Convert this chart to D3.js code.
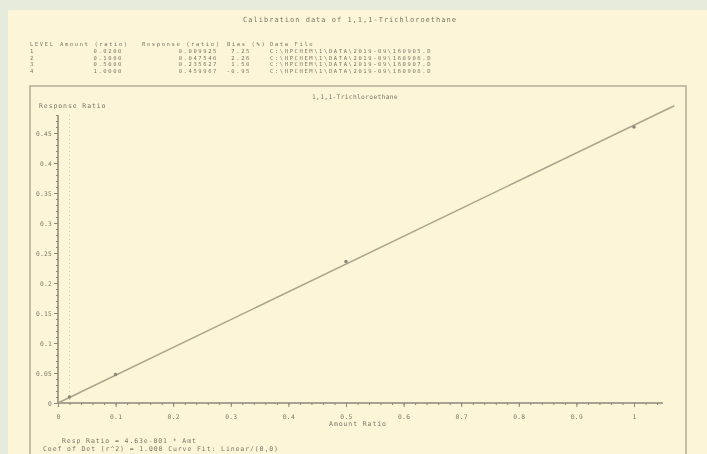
<!DOCTYPE html>
<html>
<head>
<meta charset="utf-8">
<script src="https://cdn.jsdelivr.net/npm/d3@7"></script>
<style>
  body { margin: 0; background: #e6ebdb; }
  svg { display: block; filter: blur(0.45px); }
  text { font-family: "DejaVu Sans Mono", monospace; fill: #7a7668; }
  .t7 { font-size: 6.5px; letter-spacing: 0.9px; }
  .tb { font-size: 5.5px; letter-spacing: 1.6px; }
</style>
</head>
<body>
<div id="chart"></div>
<script>
// calibration levels
const levels = ['1', '2', '3', '4'];
const amounts = [0.02, 0.1, 0.5, 1.0];
const responses = [0.009925, 0.047546, 0.235627, 0.459967];
const biases = ['7.25', '2.26', '1.50', '-0.95'];
const files = [
  'C:\\HPCHEM\\1\\DATA\\2019-09\\160905.D',
  'C:\\HPCHEM\\1\\DATA\\2019-09\\160906.D',
  'C:\\HPCHEM\\1\\DATA\\2019-09\\160907.D',
  'C:\\HPCHEM\\1\\DATA\\2019-09\\160908.D'
];
const xTicks = [0, 0.1, 0.2, 0.3, 0.4, 0.5, 0.6, 0.7, 0.8, 0.9, 1];
const yTicks = [0, 0.05, 0.1, 0.15, 0.2, 0.25, 0.3, 0.35, 0.4, 0.45];
const slope = 0.463;

const width = 707;
const height = 454;
const ink = '#8c8776';

const svg = d3.select('#chart').append('svg')
  .attr('width', width).attr('height', height);

svg.append('rect').attr('x', 8).attr('y', 10)
  .attr('width', width - 8).attr('height', height - 10)
  .attr('fill', '#fdf5d8');

svg.append('text').attr('x', 350).attr('y', 22)
  .attr('text-anchor', 'middle').style('font-size', '7px').style('letter-spacing', '1px')
  .text('Calibration data of 1,1,1-Trichloroethane');

// table
const cols = [
  {x: 30, hx: 30, anchor: 'start', head: 'LEVEL', val: (i) => levels[i]},
  {x: 123, hx: 60, anchor: 'end', head: 'Amount (ratio)', val: (i) => amounts[i].toFixed(4)},
  {x: 218, hx: 142, anchor: 'end', head: 'Response (ratio)', val: (i) => responses[i].toFixed(6)},
  {x: 251, hx: 227, anchor: 'end', head: 'Bias (%)', val: (i) => biases[i]},
  {x: 270, hx: 270, anchor: 'start', head: 'Data File', val: (i) => files[i]}
];
const table = svg.append('g');
cols.forEach((c) => {
  table.append('text').attr('class', 'tb').attr('x', c.hx).attr('y', 46).text(c.head);
  levels.forEach((l, i) => {
    table.append('text').attr('class', 'tb').attr('x', c.x).attr('y', 53 + i * 6.5)
      .attr('text-anchor', c.anchor).text(c.val(i));
  });
});

// plot frame
svg.append('rect').attr('x', 30).attr('y', 86)
  .attr('width', 656).attr('height', 380)
  .attr('fill', 'none').attr('stroke', '#b3ad96').attr('stroke-width', 1.5);

svg.append('text').attr('x', 355).attr('y', 99)
  .attr('text-anchor', 'middle').style('font-size', '6.3px').style('letter-spacing', '0.3px')
  .text('1,1,1-Trichloroethane');
svg.append('text').attr('class', 't7').attr('x', 39).attr('y', 108)
  .text('Response Ratio');

const x = d3.scaleLinear().domain([0, 1]).range([58, 634]);
const y = d3.scaleLinear().domain([0, 0.45]).range([403, 133]);

// faint dotted guide
svg.append('line').attr('x1', x(0.02)).attr('x2', x(0.02))
  .attr('y1', y(0.48)).attr('y2', y(0))
  .attr('stroke', '#ccc6ae').attr('stroke-dasharray', '1,3');

// minor ticks
const xAxisMinor = d3.axisBottom(x).tickValues(d3.range(0, 1.05, 0.02))
  .tickSize(2).tickFormat('');
const xAxis = d3.axisBottom(x).tickValues(xTicks).tickSize(4)
  .tickPadding(8).tickFormat((d) => d === 0 || d === 1 ? d3.format('d')(d) : d3.format('.1f')(d));

const gx = svg.append('g').attr('transform', `translate(0,${y(0)})`);
gx.append('g').call(xAxisMinor);
gx.append('g').call(xAxis);
gx.selectAll('.domain').attr('d', `M${x(0)},0H${x(1.05)}`);
gx.selectAll('path, line').attr('stroke', ink);
gx.selectAll('text').style('font-size', '6.3px').style('letter-spacing', '0.3px')
  .style('font-family', '"DejaVu Sans Mono", monospace').attr('fill', '#7a7668');

const yAxisMinor = d3.axisLeft(y).tickValues(d3.range(0, 0.49, 0.01))
  .tickSize(2).tickFormat('');
const yAxis = d3.axisLeft(y).tickValues(yTicks).tickSize(4)
  .tickPadding(2).tickFormat((d) => d === 0 ? '0' : String(+d.toFixed(2)));
const gy = svg.append('g').attr('transform', `translate(${x(0)},0)`);
gy.append('g').call(yAxisMinor);
gy.append('g').call(yAxis);
gy.selectAll('.domain').attr('d', `M0,${y(0)}V${y(0.48)}`);
gy.selectAll('path, line').attr('stroke', ink);
gy.selectAll('text').style('font-size', '6.3px').style('letter-spacing', '0.2px')
  .style('font-family', '"DejaVu Sans Mono", monospace').attr('fill', '#7a7668');

svg.append('text').attr('class', 't7').attr('x', 358).attr('y', 426)
  .attr('text-anchor', 'middle').text('Amount Ratio');

// fit line through origin
const fitX = [0, 1.07];
svg.append('path')
  .datum(fitX)
  .attr('d', d3.line().x((d) => x(d)).y((d) => y(d * slope)))
  .attr('fill', 'none').attr('stroke', '#aaa48c').attr('stroke-width', 1.5);

svg.append('g').selectAll('circle')
  .data(amounts)
  .join('circle')
  .attr('cx', (d) => x(d))
  .attr('cy', (d, i) => y(responses[i]))
  .attr('r', 1.8)
  .attr('fill', '#8f8a78');

svg.append('text').attr('class', 't7').attr('x', 62).attr('y', 443)
  .text('Resp Ratio = 4.63e-001 * Amt');
svg.append('text').attr('class', 't7').attr('x', 43).attr('y', 451)
  .text('Coef of Det (r^2) = 1.000   Curve Fit: Linear/(0,0)');
</script>
</body>
</html>
